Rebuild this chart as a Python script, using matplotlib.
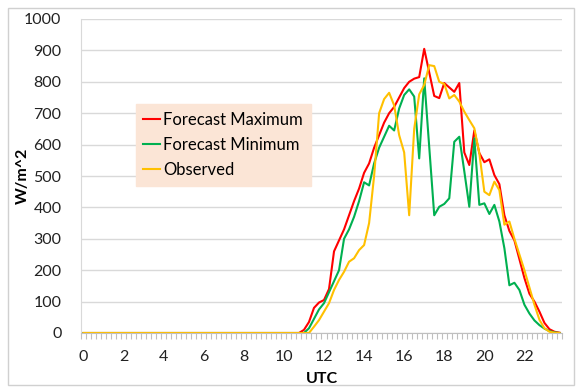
import numpy as np
import matplotlib
matplotlib.use("Agg")
import matplotlib.pyplot as plt

# 15-minute values, 96 per day (index 0 = 00:00 UTC)
night_zeros = 44
fc_max = [0] * night_zeros + [
    10, 35, 80, 97, 105, 140, 260, 295, 330, 375, 420, 460,
    510, 540, 590, 630, 670, 700, 720, 750, 780, 800, 810, 815,
    905, 830, 755, 748, 796, 782, 768, 796, 575, 535, 645, 573,
    544, 553, 503, 474, 375, 325, 295, 235, 175, 125, 100, 68,
    32, 12, 4, 1]
fc_min = [0] * night_zeros + [
    0, 15, 45, 75, 95, 130, 165, 200, 300, 330, 370, 420,
    480, 470, 540, 590, 625, 660, 645, 715, 758, 776, 753, 556,
    811, 593, 375, 402, 411, 429, 609, 625, 515, 402, 620, 408,
    413, 379, 408, 355, 270, 152, 160, 137, 90, 62, 40, 25,
    14, 6, 2, 0]
observed = [0] * night_zeros + [
    0, 0, 20, 41, 68, 95, 137, 169, 195, 227, 238, 264,
    280, 350, 500, 700, 745, 765, 725, 630, 575, 375, 650, 760,
    790, 853, 850, 800, 793, 747, 758, 737, 705, 678, 652, 572,
    450, 439, 482, 455, 345, 355, 300, 250, 200, 145, 90, 42,
    15, 4, 1, 0]
hour_labels = [str(h) for h in range(0, 24, 2)]
series_names = ["Forecast Maximum", "Forecast Minimum", "Observed"]

plt.rcParams['font.family'] = ['Lato', 'DejaVu Sans']

fig = plt.figure(figsize=(5.79, 3.89), dpi=100)
ax = fig.add_axes([81 / 579, 1 - 333 / 389, 481 / 579, 314 / 389])

x = np.arange(96)
ax.plot(x, fc_max, color="#ff0000", lw=1.5, label=series_names[0])
ax.plot(x, fc_min, color="#00b050", lw=1.5, label=series_names[1])
ax.plot(x, observed, color="#ffc000", lw=1.5, label=series_names[2])

ax.set_xlim(-0.5, 95.5)
ax.set_ylim(0, 1000)
ax.set_yticks(range(0, 1001, 100))
ax.set_xticks(range(0, 96, 8))
ax.set_xticklabels(hour_labels)
ax.set_xticks(np.arange(-0.5, 96, 1), minor=True)
ax.grid(axis="y", color="#d9d9d9", lw=1)
ax.set_axisbelow(True)

for side in ["top", "right"]:
    ax.spines[side].set_visible(False)
ax.spines["left"].set_color("#d9d9d9")
ax.spines["bottom"].set_color("#bfbfbf")
ax.tick_params(axis="y", length=0, pad=14, labelsize=11.5, labelcolor="#222222")
ax.tick_params(axis="x", which="major", length=0, pad=12, labelsize=11.5, labelcolor="#222222")
ax.tick_params(axis="x", which="minor", length=4, color="#bfbfbf", width=0.8)

ax.set_ylabel("W/m^2", fontsize=11.5, fontweight="bold")
ax.yaxis.set_label_coords(-0.107, 0.5)
ax.set_xlabel("UTC", fontsize=11.5, fontweight="bold", labelpad=6)

leg = ax.legend(loc="upper left", bbox_to_anchor=(0.114, 0.728), borderaxespad=0,
                fontsize=12, frameon=True, fancybox=False, framealpha=1,
                facecolor="#fbe5d6", edgecolor="#fbe5d6", handlelength=1.0,
                handletextpad=0.2, labelspacing=0.55, borderpad=0.45)

# outer chart border
fig.patches.append(plt.Rectangle((8 / 579, 4 / 389), 566 / 579, 377 / 389,
                                 transform=fig.transFigure, fill=False,
                                 edgecolor="#d0d0d0", lw=1))

fig.savefig("out.png", dpi=100)
